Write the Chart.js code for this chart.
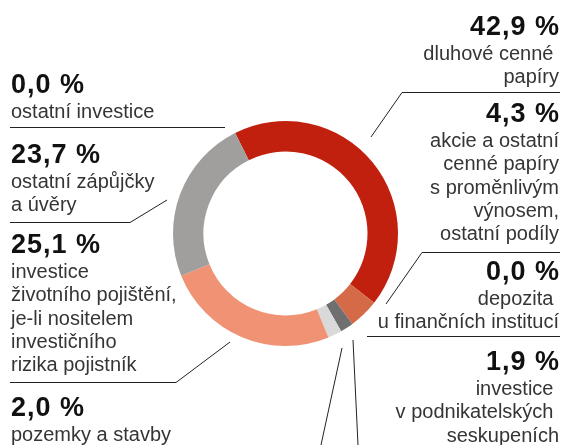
<!DOCTYPE html>
<html>
<head>
<meta charset="utf-8">
<script src="https://cdn.jsdelivr.net/npm/chart.js@4.4.1/dist/chart.umd.min.js"></script>
<style>
  html, body { margin: 0; padding: 0; background: #fff; }
  #wrap { width: 563px; height: 445px; }
</style>
</head>
<body>
<div id="wrap"><canvas id="ChartInvest_Canvasobj" width="563" height="445"></canvas></div>
<script>
// data, clockwise from top
var categories = [
  'dluhové cenné papíry',
  'akcie a ostatní cenné papíry s proměnlivým výnosem, ostatní podíly',
  'depozita u finančních institucí',
  'investice v podnikatelských seskupeních',
  'pozemky a stavby',
  'investice životního pojištění, je-li nositelem investičního rizika pojistník',
  'ostatní zápůjčky a úvěry',
  'ostatní investice'
];
var shares = [42.9, 4.3, 0.0, 1.9, 2.0, 25.1, 23.7, 0.0];
var labelLines = [
  ['dluhové cenné ', 'papíry'],
  ['akcie a ostatní', 'cenné papíry', 's proměnlivým', 'výnosem,', 'ostatní podíly'],
  ['depozita ', 'u finančních institucí'],
  ['investice ', 'v podnikatelských ', 'seskupeních'],
  ['pozemky a stavby'],
  ['investice', 'životního pojištění,', 'je-li nositelem', 'investičního', 'rizika pojistník'],
  ['ostatní zápůjčky', 'a úvěry'],
  ['ostatní investice']
];
var sliceColors = ['#c1200f', '#d46a48', '#9a9a9a', '#6f6f6f', '#d9d9d9', '#f09274', '#a09f9d', '#8a8a8a'];

// where each label block sits (side, baseline of the percentage)
var labelPlace = [
  { side: 'right', y: 35 },
  { side: 'right', y: 122 },
  { side: 'right', y: 280 },
  { side: 'right', y: 370 },
  { side: 'left', y: 416 },
  { side: 'left', y: 253 },
  { side: 'left', y: 163 },
  { side: 'left', y: 93 }
];

// leader lines
var leaders = [
  [[10, 127.5], [225, 127.5]],
  [[10, 222.5], [130, 222.5], [167, 200]],
  [[10, 382.5], [176, 382.5], [230, 342]],
  [[560, 92.5], [402, 92.5], [371, 137]],
  [[560, 252.5], [422, 252.5], [386, 304]],
  [[560, 336.5], [367, 336.5]],
  [[342, 348], [321, 445]],
  [[353, 340], [358, 445]]
];

function pct(v) {
  return v.toFixed(1).replace('.', ',') + ' %';
}

const labelPlugin = {
  id: 'sideLabels',
  afterDraw(chart) {
    const ctx = chart.ctx;
    ctx.save();
    ctx.strokeStyle = '#222';
    ctx.lineWidth = 1;
    leaders.forEach(function (pts) {
      ctx.beginPath();
      ctx.moveTo(pts[0][0], pts[0][1]);
      for (let i = 1; i < pts.length; i++) ctx.lineTo(pts[i][0], pts[i][1]);
      ctx.stroke();
    });
    ctx.textBaseline = 'alphabetic';
    shares.forEach(function (v, i) {
      const p = labelPlace[i];
      const left = p.side === 'left';
      ctx.textAlign = left ? 'left' : 'right';
      ctx.fillStyle = '#111';
      ctx.font = 'bold 27px "Liberation Sans", Arial, sans-serif';
      ctx.letterSpacing = '1px';
      ctx.fillText(pct(v), left ? 11 : 560, p.y);
      ctx.letterSpacing = '0px';
      ctx.fillStyle = '#353535';
      ctx.font = '20px "Liberation Sans", Arial, sans-serif';
      labelLines[i].forEach(function (t, j) {
        ctx.fillText(t, left ? 11 : 559, p.y + 25 + j * 23.3);
      });
    });
    ctx.restore();
  }
};

const config_invest = {
  type: 'doughnut',
  data: {
    labels: categories,
    datasets: [
      {
        data: shares,
        backgroundColor: sliceColors,
        borderWidth: 0,
        hoverOffset: 0
      }
    ]
  },
  options: {
    responsive: false,
    animation: false,
    events: [],
    rotation: -26.6,
    cutout: '72.9%',
    layout: {
      padding: { left: 173, right: 165, top: 121, bottom: 99 }
    },
    plugins: {
      legend: { display: false },
      tooltip: { enabled: false }
    }
  },
  plugins: [labelPlugin]
};

const ChartInvest = new Chart(
  document.getElementById('ChartInvest_Canvasobj'),
  config_invest
);
</script>
</body>
</html>
